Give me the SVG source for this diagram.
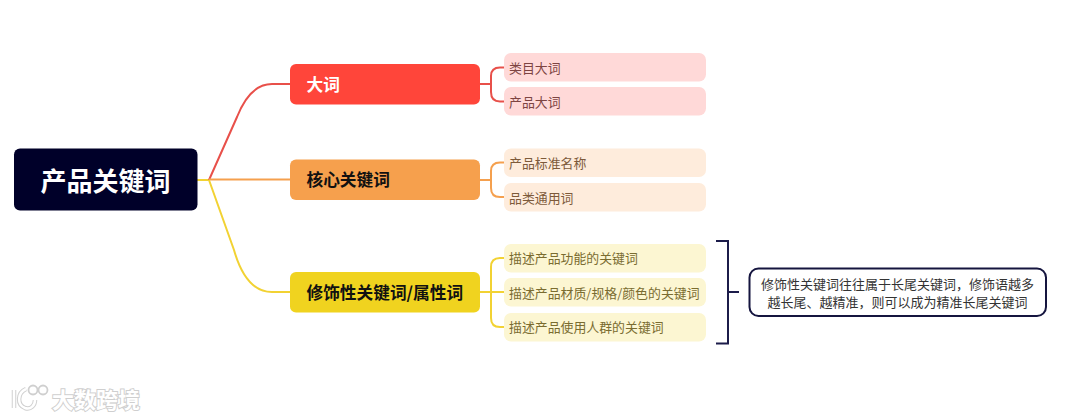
<svg xmlns="http://www.w3.org/2000/svg" width="1080" height="419" viewBox="0 0 1080 419">
<style>
text{font-family:"Noto Sans CJK SC","Liberation Sans",sans-serif}
.c{fill:none;stroke-width:2}
.red{stroke:#e8504a}.org{stroke:#f5a04e}.yel{stroke:#f2d233}
.l1{font-size:16.700px;font-weight:700}
.s{font-size:12.900px}
.sub{width:202px;height:28.500px}
.wm{fill:#fff;stroke:#cfcfcf;stroke-width:2;paint-order:stroke}
.lg{fill:none;stroke:#d0d0d0;stroke-width:4.500}
.lw{fill:none;stroke:#fff;stroke-width:2.500}
</style>
<rect width="1080" height="419" fill="#fff"/>
<g id="connectors">
<path class="c" style="stroke:#f2d233" d="M197 180H209"/>
<path class="c red" d="M209 180L237 117Q250 84 272 84H290"/>
<path class="c org" d="M209 179.500H290"/>
<path class="c yel" d="M209 180L234 250Q246 292 272 292H290"/>
<path class="c red" d="M480 84H491M504 67.500H500Q491 67.500 491 76V92Q491 101.500 500 101.500H504"/>
<path class="c org" d="M480 180H491M504 162.500H500Q491 162.500 491 171V188Q491 197 500 197H504"/>
<path class="c yel" d="M480 292H504M504 258H500Q491 258 491 267V318Q491 327 500 327H504"/>
<path fill="none" stroke="#1c1c4a" stroke-width="2" d="M716 241H728V343.500H716M728 292H739"/>
</g>
<g id="root"><rect x="14" y="148.500" width="183.500" height="62" rx="6" fill="#000029"/><text x="105.500" y="190.500" font-size="26" font-weight="700" fill="#fff" text-anchor="middle">产品关键词</text></g>
<g id="n-dici"><rect x="290" y="64" width="190" height="40.500" rx="6" fill="#ff453a"/><text class="l1" x="306.500" y="91" fill="#fff">大词</text></g>
<g id="n-hexin"><rect x="290" y="159.500" width="190" height="40.500" rx="6" fill="#f6a04d"/><text class="l1" x="306.500" y="186" fill="#111">核心关键词</text></g>
<g id="n-xiushi"><rect x="290" y="272" width="190" height="40.500" rx="6" fill="#f0d31f"/><text class="l1" x="306.500" y="299" fill="#111">修饰性关键词/属性词</text></g>
<g id="s1"><rect class="sub" x="504" y="53" rx="7" fill="#ffd9d8"/><text class="s" x="509" y="72.500" fill="#7d4442">类目大词</text></g>
<g id="s2"><rect class="sub" x="504" y="87" rx="7" fill="#ffd9d8"/><text class="s" x="509" y="106.500" fill="#7d4442">产品大词</text></g>
<g id="s3"><rect class="sub" x="504" y="148.500" rx="7" fill="#feecdc"/><text class="s" x="509" y="167.500" fill="#7d5a3a">产品标准名称</text></g>
<g id="s4"><rect class="sub" x="504" y="183" rx="7" fill="#feecdc"/><text class="s" x="509" y="202.500" fill="#7d5a3a">品类通用词</text></g>
<g id="s5"><rect class="sub" x="504" y="244" rx="7" fill="#fcf6d2"/><text class="s" x="509" y="263" fill="#7a6c30">描述产品功能的关键词</text></g>
<g id="s6"><rect class="sub" x="504" y="278" rx="7" fill="#fcf6d2"/><text class="s" x="509" y="297.500" fill="#7a6c30">描述产品材质/规格/颜色的关键词</text></g>
<g id="s7"><rect class="sub" x="504" y="313" rx="7" fill="#fcf6d2"/><text class="s" x="509" y="331.500" fill="#7a6c30">描述产品使用人群的关键词</text></g>
<g id="note"><rect x="749.500" y="268.500" width="296.500" height="47.500" rx="9" fill="#fff" stroke="#15153f" stroke-width="2"/>
<text x="897.500" y="288.500" font-size="13" fill="#333" text-anchor="middle">修饰性关键词往往属于长尾关键词，修饰语越多</text>
<text x="897.500" y="306.500" font-size="13" fill="#333" text-anchor="middle">越长尾、越精准，则可以成为精准长尾关键词</text></g>
<g id="watermark">
<path class="lg" d="M14 390V408M26 389C17 393 17 405 25 408C31 410 35 405 35 400"/>
<path class="lw" d="M14 390V408M26 389C17 393 17 405 25 408C31 410 35 405 35 400"/>
<circle cx="33" cy="390" r="4.500" fill="none" stroke="#cfcfcf" stroke-width="1.800"/>
<circle cx="43" cy="390" r="4.500" fill="none" stroke="#cfcfcf" stroke-width="1.800"/>
<text class="wm" x="52" y="408" font-size="22" font-weight="700">大数跨境</text>
</g>
</svg>
